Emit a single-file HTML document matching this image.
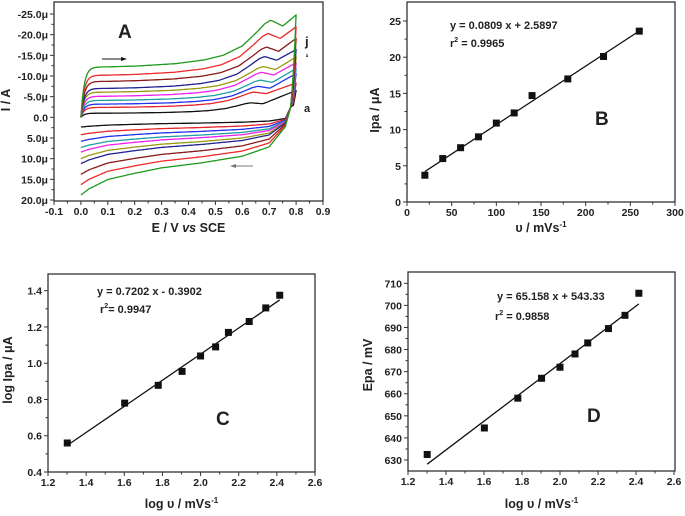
<!DOCTYPE html>
<html><head><meta charset="utf-8"><style>
body{margin:0;background:#fff;}
svg{display:block;font-family:"Liberation Sans",Arial,sans-serif;}
text{font-weight:bold;fill:#222;}
</style></head><body>
<svg id="fig" width="685" height="516" viewBox="0 0 685 516"></svg>
<script>
// ---- Panel A data (10 CV curves a..j) ----
const cvLabels=['a','b','c','d','e','f','g','h','i','j'];
const cvColors=['#111','#e8242a','#2233ee','#20a0a0','#ee22ee','#9a9a10','#22238f','#8b1a1a','#ee2a2a','#1f9a1f'];
const cvPlateau=[1.0,2.4,3.2,4.1,5.1,6.1,7.0,8.7,10.2,12.2];
const cvPeak=[3.5,6.1,7.5,9.0,10.9,12.3,14.7,17.0,20.3,23.5];
const cvPeakE=[0.632,0.644,0.658,0.667,0.672,0.678,0.683,0.69,0.696,0.706];
const cvEnd=[6.5,8.3,10.6,11.8,13.2,14.6,16.4,19.1,21.9,24.8];
const cvCath0=[2.35,4.2,5.8,7.3,8.4,10.0,11.2,13.8,16.3,18.8];
// ---- Panel B ----
const scanRates=[20,40,60,80,100,120,140,180,220,260];
const ipa=[3.7,6.0,7.5,9.0,10.9,12.3,14.7,17.0,20.1,23.6];
// ---- Panel C ----
const logRates=[1.301,1.602,1.778,1.903,2.0,2.079,2.146,2.255,2.342,2.415];
const logIpa=[0.56,0.78,0.878,0.955,1.04,1.09,1.17,1.23,1.305,1.375];
// ---- Panel D ----
const epa=[632.5,644.5,658,667,672,678,683,689.5,695.5,705.5];
const xTicksB=[0,50,100,150,200,250,300];
const yTicksB=[0,5,10,15,20,25];
const xTicksLog=[1.2,1.4,1.6,1.8,2.0,2.2,2.4,2.6];
const yTicksC=[0.4,0.6,0.8,1.0,1.2,1.4];
const yTicksD=[630,640,650,660,670,680,690,700,710];
const xTicksA=[-0.1,0,0.1,0.2,0.3,0.4,0.5,0.6,0.7,0.8,0.9];
const yTicksA=[-25,-20,-15,-10,-5,0,5,10,15,20];

const NS='http://www.w3.org/2000/svg';
const svg=document.getElementById('fig');
function el(tag,attrs,parent,txt){const e=document.createElementNS(NS,tag);for(const k in attrs)e.setAttribute(k,attrs[k]);if(txt!==undefined)e.textContent=txt;(parent||svg).appendChild(e);return e;}
function lin(d0,d1,r0,r1){return v=>r0+(v-d0)*(r1-r0)/(d1-d0);}

function panel(name,box,xs,ys,xt,yt,xfmt,yfmt,xTitle,yTitle,xtY,ytX,ytY){
  const g=el('g',{},svg);
  
  
  const r=el('rect',{x:box[0],y:box[1],width:box[2]-box[0],height:box[3]-box[1],fill:'none',stroke:'#333','stroke-width':1.3},g);
  
  xt.forEach((v,i)=>{const x=xs(v);el('line',{x1:x,x2:x,y1:box[3],y2:box[3]+4,stroke:'#333'},g);
    const t=el('text',{x:x,y:box[3]+14,'text-anchor':'middle','font-size':10.5},g,xfmt(v));
    
    if(i<xt.length-1){const xm=xs(v+(xt[1]-xt[0])/2);el('line',{x1:xm,x2:xm,y1:box[3],y2:box[3]+2.5,stroke:'#333'},g);}});
  yt.forEach((v,i)=>{const y=ys(v);el('line',{x1:box[0]-4,x2:box[0],y1:y,y2:y,stroke:'#333'},g);
    const t=el('text',{x:box[0]-6,y:y+4,'text-anchor':'end','font-size':10.5},g,yfmt(v));
    
    if(i<yt.length-1){const ym=ys(v+(yt[1]-yt[0])/2);el('line',{x1:box[0]-2.5,x2:box[0],y1:ym,y2:ym,stroke:'#333'},g);}});
  const xtt=el('text',{x:(box[0]+box[2])/2,y:xtY,'text-anchor':'middle','font-size':12.5},g);xtt.innerHTML=xTitle;
  
  const ytt=el('text',{x:ytX,y:ytY,'text-anchor':'middle','font-size':12.5,transform:`rotate(-90 ${ytX} ${ytY})`},g);ytt.innerHTML=yTitle;
  
  return g;
}
function scatterFit(g,xs,ys,X,Y,slope,icpt){
  const l=el('line',{x1:xs(X[0]),y1:ys(slope*X[0]+icpt),x2:xs(X[X.length-1]),y2:ys(slope*X[X.length-1]+icpt),stroke:'#111','stroke-width':1.3},g);
  
  X.forEach((x,i)=>{const p=el('rect',{x:xs(x)-3.5,y:ys(Y[i])-3.5,width:7,height:7,fill:'#111'},g);
    });
}
function label(g,x,y,txt,size,color,name){const t=el('text',{x:x,y:y,'font-size':size,fill:color},g);t.innerHTML=txt;
  return t;}
function interp(t,T,U){if(t<=T[0])return U[0];for(let i=1;i<T.length;i++)if(t<=T[i])return U[i-1]+(U[i]-U[i-1])*(t-T[i-1])/(T[i]-T[i-1]);return U[U.length-1];}

// ---- Panel A ----
{
 const box=[54,2,323,201];
 const xs=lin(-0.1,0.9,54,323), ys=lin(-25,20,14,200);
 const g=panel('panel-a-cv',box,xs,ys,xTicksA,yTicksA,v=>v.toFixed(1),v=>v===0?'0.0':(v<0?'-'+(-v).toFixed(1)+'\u03bc':v.toFixed(1)+'\u03bc'),
  'E / V <tspan font-style="italic">vs</tspan> SCE','I / A',232,10,100);
 for(let k=0;k<10;k++){
   const pts=[];const pl=cvPlateau[k],pk=cvPeak[k],pE=cvPeakE[k],en=cvEnd[k],c0=cvCath0[k];
   for(let n=0;n<=160;n++){
     const E=n*0.005;
     let v;
     if(E<=pE){const r=1-Math.exp(-E/0.012);
       const u=interp(E/pE,[0,0.14,0.3,0.5,0.65,0.75,0.85,0.92,0.97,1],[0,0,0.02,0.07,0.15,0.25,0.45,0.72,0.93,1]);
       v=pl*r+(pk-pl)*u;}
     else{const dip=pk*0.94;v=interp(E,[pE,pE+0.045,0.8],[pk,dip,en]);}
     pts.push([xs(E),ys(-v)]);
   }
   const RE=[0,0.03,0.1,0.2,0.3,0.45,0.6,0.7,0.76,0.78,0.79,0.8];
   const RF=[1,0.92,0.8,0.72,0.65,0.585,0.5,0.38,0.12];
   for(let n=160;n>=0;n--){
     const E=n*0.005;let v;
     if(E<=0.76) v=c0*interp(E,RE.slice(0,9),RF);
     else v=interp(E,[0.76,0.78,0.79,0.8],[c0*0.12,-2.5,-en*0.45,-en]);
     pts.push([xs(E),ys(v)]);
   }
   const p=el('polyline',{points:pts.map(q=>q[0].toFixed(1)+','+q[1].toFixed(1)).join(' '),fill:'none',stroke:cvColors[k],'stroke-width':1.3,'stroke-linejoin':'round'},g);
   
 }
 const a1=el('g',{},g);
 el('line',{x1:102,y1:59,x2:124,y2:59,stroke:'#111','stroke-width':1},a1);el('polygon',{points:'127,59 121,57 121,61',fill:'#111'},a1);
 const a2=el('g',{},g);
 el('line',{x1:233,y1:166,x2:253,y2:166,stroke:'#777','stroke-width':1},a2);el('polygon',{points:'230,166 236,164 236,168',fill:'#777'},a2);
 label(g,118,38,'A',19,'#9b1b2a','panel-label-a');
 label(g,305,46,'j',13,'#1f9a1f','curve-label-j');
 el('polygon',{points:'307,53 306,57 308,57',fill:'#333'},g);
 label(g,304,112,'a',11,'#222','curve-label-a');
}
// ---- Panel B ----
{
 const box=[407,2,675,202];
 const xs=lin(0,300,407,675), ys=lin(0,25,202,21);
 const g=panel('panel-b-ipa-vs-rate',box,xs,ys,xTicksB,yTicksB,v=>String(v),v=>String(v),
  '\u03c5 / mVs<tspan font-size="8" dy="-5">-1</tspan>','Ipa / \u03bcA',232,379,110);
 scatterFit(g,xs,ys,scanRates,ipa,0.0809,2.5897);
 label(g,450,29,'y = 0.0809 x + 2.5897',11,'#222','regression-equation');
 label(g,450,47,'r<tspan font-size="7" dy="-5">2</tspan><tspan dy="5"> = 0.9965</tspan>',11,'#222','r-squared');
 label(g,595,125,'B',19,'#9b1b2a','panel-label-b');
}
// ---- Panel C ----
{
 const box=[48,274,315,472];
 const xs=lin(1.2,2.6,48,315), ys=lin(0.4,1.4,472,290.7);
 const g=panel('panel-c-log-ipa',box,xs,ys,xTicksLog,yTicksC,v=>v.toFixed(1),v=>v.toFixed(1),
  'log \u03c5 / mVs<tspan font-size="8" dy="-5">-1</tspan>','log Ipa / \u03bcA',508,12,370);
 scatterFit(g,xs,ys,logRates,logIpa,0.7202,-0.3902);
 label(g,97,295,'y = 0.7202 x - 0.3902',11,'#222','regression-equation');
 label(g,100,313,'r<tspan font-size="7" dy="-5">2</tspan><tspan dy="5">= 0.9947</tspan>',11,'#222','r-squared');
 label(g,216,425,'C',19,'#9b1b2a','panel-label-c');
}
// ---- Panel D ----
{
 const box=[408,272,675,471];
 const xs=lin(1.2,2.6,408,674), ys=lin(630,710,460,283.3);
 const g=panel('panel-d-epa',box,xs,ys,xTicksLog,yTicksD,v=>v.toFixed(1),v=>String(v),
  'log \u03c5 / mVs<tspan font-size="8" dy="-5">-1</tspan>','Epa / mV',508,372,365);
 scatterFit(g,xs,ys,logRates,epa,65.158,543.33);
 label(g,497,300,'y = 65.158 x + 543.33',11,'#222','regression-equation');
 label(g,495,320,'r<tspan font-size="7" dy="-5">2</tspan><tspan dy="5"> = 0.9858</tspan>',11,'#222','r-squared');
 label(g,587,422,'D',19,'#9b1b2a','panel-label-d');
}
</script>
</body></html>
